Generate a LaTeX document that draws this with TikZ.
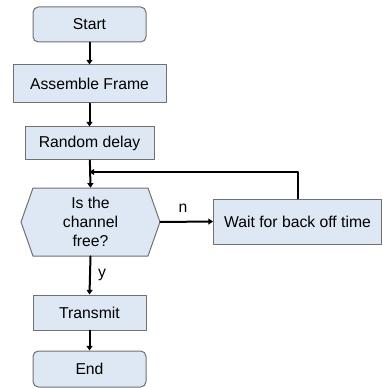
\documentclass[tikz,border=0pt]{standalone}
\usepackage{fontspec}
\setmainfont{Liberation Sans}
\usetikzlibrary{arrows.meta, calc}

\definecolor{boxfill}{HTML}{DEE8F4}
\definecolor{boxline}{HTML}{707070}

\tikzset{
    stepbox/.style={draw=boxline, fill=boxfill, line width=0.75pt, inner sep=0pt, align=center},
    termbox/.style={stepbox, rounded corners=4pt},
    flow/.style={line width=1.5pt, -{Triangle[length=3.5pt,width=4.5pt]}},
}

\begin{document}
\begin{tikzpicture}[line cap=round,line join=round,x=0.75pt,y=-0.75pt,font=\fontsize{11.8}{14.25}\selectfont]
    \useasboundingbox (0,0) rectangle (382,388);

    % main column
    \node[termbox, minimum width=84.75pt, minimum height=26.25pt] (start) at (89.5,24.5) {Start};
    \node[stepbox, minimum width=114.75pt, minimum height=28.5pt] (frame) at (89.5,84) {Assemble Frame};
    \node[stepbox, minimum width=96.75pt, minimum height=24.75pt] (delay) at (89.5,143.5) {Random delay};

    % decision (hexagon drawn round the centre)
    \coordinate (freec) at (90.5,222);
    \draw[boxline, fill=boxfill, line width=0.75pt] ($(freec)+(-69.5,0)$) -- ($(freec)+(-57.5,-34)$) -- ($(freec)+(57.5,-34)$)
        -- ($(freec)+(69.5,0)$) -- ($(freec)+(57.5,34)$) -- ($(freec)+(-57.5,34)$) -- cycle;
    \node[minimum width=104.25pt, minimum height=51pt, inner sep=0pt, align=center] (free) at (freec) {Is the\\channel\\free?};

    \node[stepbox, minimum width=126pt, minimum height=33.75pt] (wait) at (297.5,221.5) {Wait for back off time};

    \node[stepbox, minimum width=84.75pt, minimum height=26.25pt] (send) at (89.5,312.5) {Transmit};
    \node[termbox, minimum width=84.75pt, minimum height=27pt] (end) at (89.5,369) {End};

    \coordinate (join) at (89.5,172);

    % connectors
    \draw[flow] (start) -- (frame);
    \draw[flow] (frame) -- (delay);
    \draw[flow] (delay) -- (free.north);
    \draw[flow] (free.east) -- node[pos=0.43, above=3pt] {n} (wait.west);
    \draw[flow] (wait.north) |- (join);
    \draw[flow] (free.south) -- node[midway, right=2pt] {y} (send.north);
    \draw[flow] (send) -- (end);

\end{tikzpicture}
\end{document}
